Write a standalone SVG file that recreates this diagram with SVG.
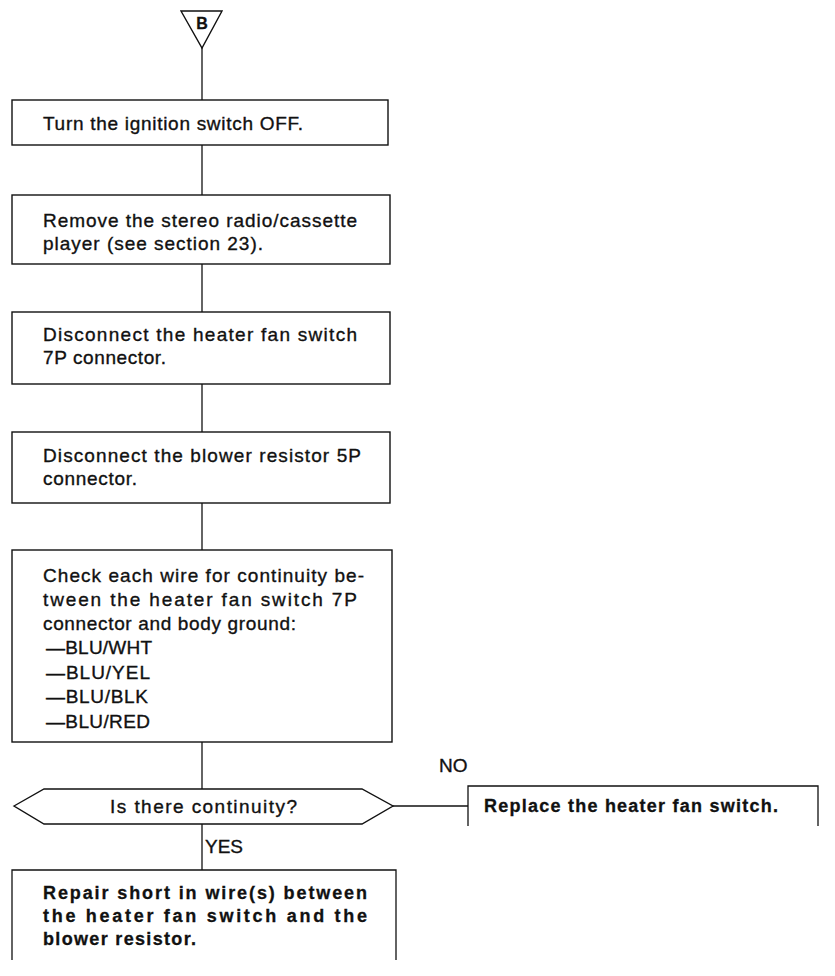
<svg xmlns="http://www.w3.org/2000/svg" width="835" height="976" viewBox="0 0 835 976">
<style>
.bx{fill:#fff;stroke:#111;stroke-width:1.4}
.ln{stroke:#111;stroke-width:1.3;fill:none}
.t{font-family:"Liberation Sans",Arial,sans-serif;font-size:19px;fill:#111;stroke:#111;stroke-width:0.35}
.b{font-weight:bold;font-size:18px;stroke-width:0.3}
</style>
<rect width="835" height="976" fill="#fff"/>
<g id="connectors">
<line class="ln" x1="202" y1="48" x2="202" y2="100"/>
<line class="ln" x1="202" y1="145" x2="202" y2="195"/>
<line class="ln" x1="202" y1="264" x2="202" y2="312"/>
<line class="ln" x1="202" y1="384" x2="202" y2="432"/>
<line class="ln" x1="202" y1="503" x2="202" y2="550"/>
<line class="ln" x1="202" y1="742" x2="202" y2="789"/>
<line class="ln" x1="393" y1="806" x2="468" y2="806"/>
<line class="ln" x1="202" y1="824" x2="202" y2="870"/>
<text class="t" x="439" y="772">NO</text>
<text class="t" x="205" y="853">YES</text>
</g>
<g id="start">
<polygon class="bx" points="181,11 222,11 202,48"/>
<text class="t b" x="202" y="29" text-anchor="middle" style="font-size:16px">B</text>
</g>
<g id="n1">
<rect class="bx" x="12" y="100" width="376" height="45"/>
<text class="t" x="43" y="130" textLength="260">Turn the ignition switch OFF.</text>
</g>
<g id="n2">
<rect class="bx" x="12" y="195" width="378" height="69"/>
<text class="t" x="43" y="227" textLength="314">Remove the stereo radio/cassette</text>
<text class="t" x="43" y="250" textLength="220">player (see section 23).</text>
</g>
<g id="n3">
<rect class="bx" x="12" y="312" width="378" height="72"/>
<text class="t" x="43" y="341" textLength="314">Disconnect the heater fan switch</text>
<text class="t" x="43" y="364" textLength="123">7P connector.</text>
</g>
<g id="n4">
<rect class="bx" x="12" y="432" width="378" height="71"/>
<text class="t" x="43" y="462" textLength="318">Disconnect the blower resistor 5P</text>
<text class="t" x="43" y="485" textLength="94">connector.</text>
</g>
<g id="n5">
<rect class="bx" x="12" y="550" width="380" height="192"/>
<text class="t" x="43" y="582" textLength="321">Check each wire for continuity be-</text>
<text class="t" x="43" y="606" textLength="314">tween the heater fan switch 7P</text>
<text class="t" x="43" y="630" textLength="253">connector and body ground:</text>
<text class="t" x="46" y="654" textLength="106">—BLU/WHT</text>
<text class="t" x="46" y="679" textLength="104">—BLU/YEL</text>
<text class="t" x="46" y="703" textLength="102">—BLU/BLK</text>
<text class="t" x="46" y="728" textLength="104">—BLU/RED</text>
</g>
<g id="decision">
<polygon class="bx" points="14,806 44,789 362,789 393,806 362,824 44,824"/>
<text class="t" x="110" y="813" textLength="187">Is there continuity?</text>
</g>
<g id="replace">
<path class="ln" d="M468,826 V786 H818 V826"/>
<text class="t b" x="484" y="812" textLength="294">Replace the heater fan switch.</text>
</g>
<g id="repair">
<path class="ln" d="M12,960 V870 H396 V960"/>
<text class="t b" x="43" y="899" textLength="324">Repair short in wire(s) between</text>
<text class="t b" x="43" y="922" textLength="324">the heater fan switch and the</text>
<text class="t b" x="43" y="945" textLength="153">blower resistor.</text>
</g>
</svg>
